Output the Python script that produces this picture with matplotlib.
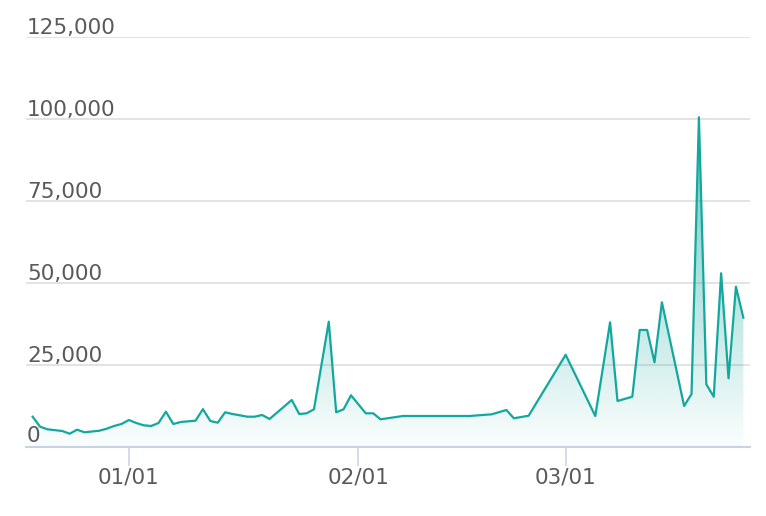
import matplotlib
matplotlib.use('Agg')
import matplotlib.pyplot as plt
import matplotlib.transforms as mtransforms
import numpy as np
import pandas as pd

# ---- data ----
dates = [
    "2018-12-19", "2018-12-20", "2018-12-21", "2018-12-23", "2018-12-24", "2018-12-25",
    "2018-12-26", "2018-12-28", "2018-12-29", "2018-12-30", "2018-12-31", "2019-01-01",
    "2019-01-02", "2019-01-03", "2019-01-04", "2019-01-05", "2019-01-06", "2019-01-07",
    "2019-01-08", "2019-01-10", "2019-01-11", "2019-01-12", "2019-01-13", "2019-01-14",
    "2019-01-15", "2019-01-17", "2019-01-18", "2019-01-19", "2019-01-20", "2019-01-23",
    "2019-01-24", "2019-01-25", "2019-01-26", "2019-01-28", "2019-01-29", "2019-01-30",
    "2019-01-31", "2019-02-02", "2019-02-03", "2019-02-04", "2019-02-07", "2019-02-16",
    "2019-02-19", "2019-02-21", "2019-02-22", "2019-02-24", "2019-03-01", "2019-03-05",
    "2019-03-07", "2019-03-08", "2019-03-10", "2019-03-11", "2019-03-12", "2019-03-13",
    "2019-03-14", "2019-03-17", "2019-03-18", "2019-03-19", "2019-03-20", "2019-03-21",
    "2019-03-22", "2019-03-23", "2019-03-24", "2019-03-25",
]
values = [
    9100, 6050, 5250, 4730, 3900, 5130,
    4330, 4820, 5430, 6260, 6870, 8090,
    7170, 6470, 6260, 7170, 10620, 6870,
    7480, 7880, 11400, 7790, 7270, 10440,
    9920, 9100, 9100, 9620, 8400, 14200,
    9920, 10130, 11360, 38100, 10440, 11360,
    15630, 10130, 10130, 8300, 9310, 9310,
    9830, 11140, 8610, 9400, 28000, 9310,
    37920, 13890, 15200, 35570, 35570, 25700,
    44020, 12360, 16030, 100500, 18990, 15200,
    52880, 20820, 48790, 39330,
]
xtick_dates = ["2019-01-01", "2019-02-01", "2019-03-01"]
xtick_labels = ["01/01", "02/01", "03/01"]
yticks = [0, 25000, 50000, 75000, 100000, 125000]
ytick_labels = ["0", "25,000", "50,000", "75,000", "100,000", "125,000"]

# ---- styling ----
LINE = "#13a89e"
TEXT = "#5a5a5a"
GRID = "#dedede"
AXIS = "#c9d1e4"

x = pd.to_datetime(dates)
y = np.array(values, dtype=float)

fig = plt.figure(figsize=(7.66, 5.16), dpi=100)
ax = fig.add_axes([26 / 766, (516 - 446.5) / 516, (750 - 26) / 766, (446.5 - 37) / 516])

pad = pd.Timedelta(days=0.9)
ax.set_xlim(x[0] - pad, x[-1] + pad)
ax.set_ylim(0, 125000)

# gradient fill clipped to the area under the line
poly = ax.fill_between(x, y, 0, facecolor="none", edgecolor="none")
rgb = matplotlib.colors.to_rgb(LINE)
n = 256
levels = np.linspace(0, 125000, n)
alpha = np.clip(0.02 + 0.62 * levels / 100000, 0, 0.78)
grad = np.zeros((n, 1, 4))
grad[:, 0, 0], grad[:, 0, 1], grad[:, 0, 2] = rgb
grad[:, 0, 3] = alpha
x0, x1 = ax.get_xlim()
im = ax.imshow(grad, extent=[x0, x1, 0, 125000], origin="lower", aspect="auto",
               interpolation="bilinear", zorder=1)
path = poly.get_paths()[0]
im.set_clip_path(path, transform=ax.transData)
ax.set_xlim(x0, x1)
ax.set_ylim(0, 125000)

ax.plot(x, y, color=LINE, lw=1.6, zorder=3)

# grid
for v in yticks[1:]:
    ax.axhline(v, color=GRID, lw=1.2, zorder=0)

# spines
for s in ["top", "right", "left"]:
    ax.spines[s].set_visible(False)
ax.spines["bottom"].set_color(AXIS)
ax.spines["bottom"].set_linewidth(1.5)
ax.spines["bottom"].set_zorder(4)

# x ticks
ax.set_xticks(pd.to_datetime(xtick_dates))
ax.set_xticklabels(xtick_labels)
ax.tick_params(axis="x", length=13.5, width=1.1, color=AXIS, pad=1.5,
               labelsize=15.5, labelcolor=TEXT)

# y labels drawn above gridlines
ax.set_yticks([])
trans = mtransforms.blended_transform_factory(ax.transAxes, ax.transData)
for v, lab in zip(yticks, ytick_labels):
    dy = 5 if v == 0 else 3
    off = mtransforms.ScaledTranslation(1 / 100, dy / 100, fig.dpi_scale_trans)
    ax.text(0, v, lab, transform=trans + off, ha="left", va="baseline",
            fontsize=15.5, color=TEXT, zorder=5)

fig.savefig("out.png", dpi=100)
